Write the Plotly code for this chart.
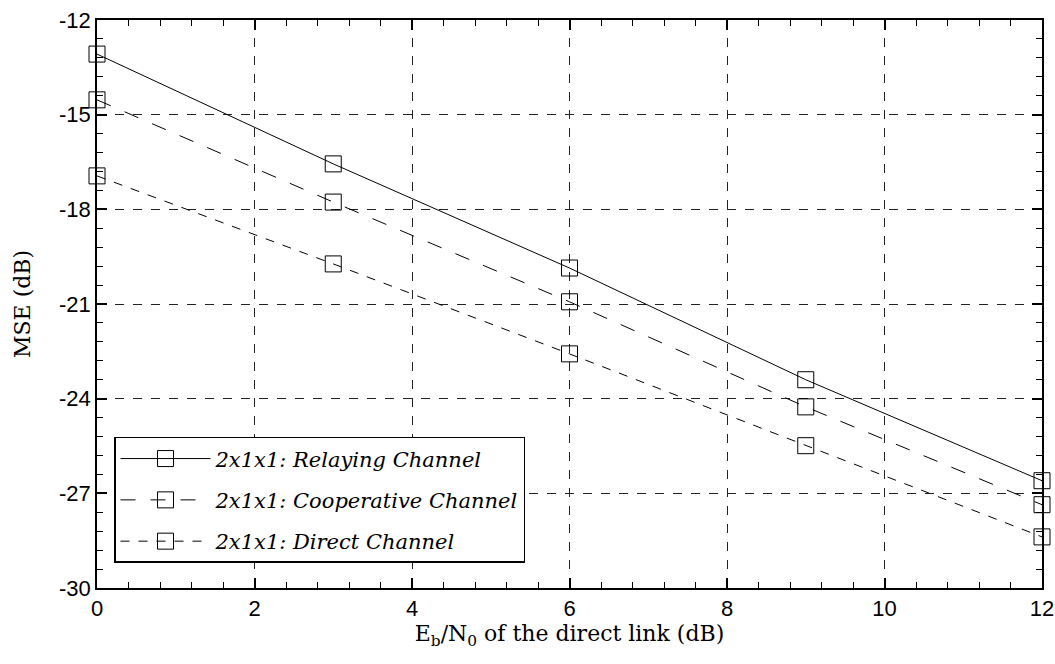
import plotly.graph_objects as go

x_vals = [0, 3, 6, 9, 12]
relaying = [-13.08, -16.56, -19.86, -23.40, -26.60]
cooperative = [-14.53, -17.77, -20.93, -24.26, -27.36]
direct = [-16.94, -19.73, -22.58, -25.49, -28.38]
names = ["<i>2x1x1: Relaying Channel</i>", "<i>2x1x1: Cooperative Channel</i>", "<i>2x1x1: Direct Channel</i>"]
x_ticks = [0, 2, 4, 6, 8, 10, 12]
y_ticks = [-12, -15, -18, -21, -24, -27, -30]

fig = go.Figure()
for i, (ys, nm, dash) in enumerate([(relaying, names[0], "solid"), (cooperative, names[1], "longdash"), (direct, names[2], "dash")]):
    fig.add_trace(go.Scatter(
        x=x_vals, y=ys, name=nm, mode="lines+markers", legendgroup=f"g{i}",
        line=dict(color="black", width=1, dash=dash),
        marker=dict(symbol="square-open", size=16, color="black", line=dict(width=1)),
        cliponaxis=False,
    ))

serif = "DejaVu Serif"
sans = "Liberation Sans"
fig.update_layout(
    width=1055, height=664,
    margin=dict(l=97, r=13, t=20, b=76, autoexpand=False),
    paper_bgcolor="white", plot_bgcolor="white",
    showlegend=True,
    legend=dict(
        x=0.018, y=0.266, xanchor="left", yanchor="top",
        bgcolor="white", bordercolor="black", borderwidth=1.5,
        font=dict(family=serif, size=21, color="black"),
        itemwidth=90, traceorder="grouped", tracegroupgap=11,
    ),
    xaxis=dict(
        range=[0, 12], tickmode="array", tickvals=x_ticks, ticktext=[str(v) for v in x_ticks], automargin=False,
        showline=True, linecolor="black", linewidth=1.5, mirror="ticks",
        ticks="inside", ticklen=10, tickwidth=1.5, tickcolor="black",
        showgrid=True, gridcolor="#222", griddash="dash", gridwidth=1,
        zeroline=False,
        minor=dict(ticks="inside", dtick=0.4, tick0=0, ticklen=6, tickwidth=1.2, tickcolor="black", showgrid=False),
        tickfont=dict(family=sans, size=22, color="black"),
        title=dict(text="E<sub>b</sub>/N<sub>0</sub> of the direct link (dB)", font=dict(family=serif, size=22, color="black"), standoff=4),
    ),
    yaxis=dict(
        range=[-30, -12], tickmode="array", tickvals=y_ticks, ticktext=[str(v) for v in y_ticks], automargin=False,
        showline=True, linecolor="black", linewidth=1.5, mirror="ticks",
        ticks="inside", ticklen=10, tickwidth=1.5, tickcolor="black",
        showgrid=True, gridcolor="#222", griddash="dash", gridwidth=1,
        zeroline=False,
        minor=dict(ticks="inside", dtick=0.6, tick0=-30, ticklen=6, tickwidth=1.2, tickcolor="black", showgrid=False),
        tickfont=dict(family=sans, size=22, color="black"),
        title=dict(text="MSE (dB)", font=dict(family=serif, size=22, color="black"), standoff=22),
    ),
)

fig.write_html("out.html", config={"displayModeBar": False},
               post_script="document.body.style.margin='0';document.body.style.overflow='hidden';")
